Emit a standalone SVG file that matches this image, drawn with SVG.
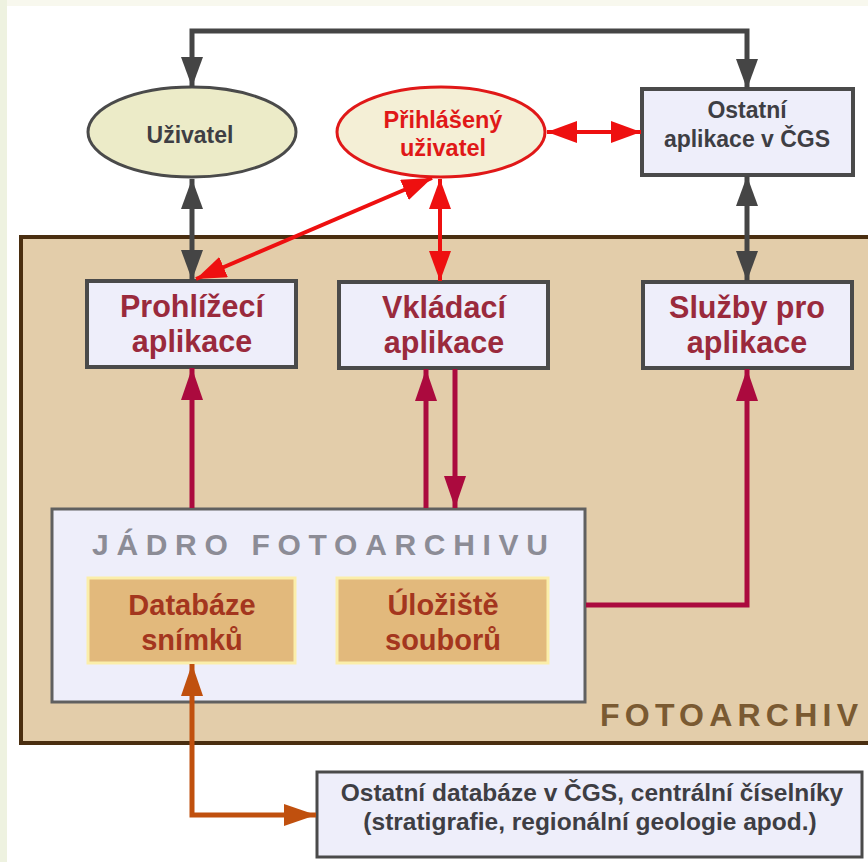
<svg xmlns="http://www.w3.org/2000/svg" width="868" height="862" viewBox="0 0 868 862">
<style>
.app{fill:#eeeefa;stroke:#4a4a4a;stroke-width:4}
.apptxt{font-family:"Liberation Sans",Arial,sans-serif;font-weight:bold;font-size:30.5px;fill:#9a2a3c;text-anchor:middle}
.gtxt{font-family:"Liberation Sans",Arial,sans-serif;font-weight:bold;font-size:23px;fill:#3e3e44;text-anchor:middle}
.btxt{font-family:"Liberation Sans",Arial,sans-serif;font-weight:bold;font-size:24.5px;fill:#3e3e44;text-anchor:middle}
.rtxt{font-family:"Liberation Sans",Arial,sans-serif;font-weight:bold;font-size:23.5px;fill:#e01818;text-anchor:middle}
.store{fill:#e2b97c;stroke:#fbeeaa;stroke-width:3}
.stxt{font-family:"Liberation Sans",Arial,sans-serif;font-weight:bold;font-size:29px;fill:#a4361e;text-anchor:middle}
.gray{stroke:#454545;stroke-width:5;fill:none}
.red{stroke:#ee1010;stroke-width:4;fill:none}
.mag{stroke:#ab0a3e;stroke-width:5;fill:none}
.org{stroke:#c0500e;stroke-width:5;fill:none}
</style>
<defs>
<marker id="ag" markerUnits="userSpaceOnUse" markerWidth="30" markerHeight="22" refX="30" refY="11" orient="auto-start-reverse"><path d="M0,0 L30,11 L0,22 z" fill="#454545"/></marker>
<marker id="ar" markerUnits="userSpaceOnUse" markerWidth="30" markerHeight="22" refX="30" refY="11" orient="auto-start-reverse"><path d="M0,0 L30,11 L0,22 z" fill="#ee1010"/></marker>
<marker id="am" markerUnits="userSpaceOnUse" markerWidth="32" markerHeight="22" refX="32" refY="11" orient="auto-start-reverse"><path d="M0,0 L32,11 L0,22 z" fill="#ab0a3e"/></marker>
<marker id="ao" markerUnits="userSpaceOnUse" markerWidth="32" markerHeight="22" refX="32" refY="11" orient="auto-start-reverse"><path d="M0,0 L32,11 L0,22 z" fill="#c0500e"/></marker>
</defs>
<rect x="0" y="0" width="868" height="862" fill="#eef2e0"/>
<rect x="7" y="0" width="861" height="6" fill="#f8f8ee"/>
<rect x="7" y="6" width="861" height="856" fill="#ffffff"/>

<g id="fotoarchiv">
<rect x="21" y="237" width="870" height="506" fill="#e3cdaa" stroke="#4a2e10" stroke-width="4"/>
<text x="858" y="726" font-family="'Liberation Sans',Arial,sans-serif" font-weight="bold" font-size="32" fill="#7a5a32" text-anchor="end" textLength="258" lengthAdjust="spacing">FOTOARCHIV</text>
</g>

<g id="uzivatel">
<ellipse cx="192" cy="132" rx="104" ry="45" fill="#ecebc8" stroke="#4a4a4a" stroke-width="3"/>
<text class="gtxt" x="190" y="143">Uživatel</text>
</g>
<g id="prihlaseny">
<ellipse cx="441" cy="132" rx="104" ry="45" fill="#f4efd6" stroke="#e01818" stroke-width="3"/>
<text class="rtxt" x="443" y="128">Přihlášený</text>
<text class="rtxt" x="443" y="156">uživatel</text>
</g>
<g id="ostatni-aplikace">
<rect x="642" y="89" width="211" height="86" class="app"/>
<text class="gtxt" x="747" y="118">Ostatní</text>
<text class="gtxt" x="747" y="147">aplikace v ČGS</text>
</g>
<g id="prohlizeci">
<rect x="87" y="281" width="209" height="86" class="app"/>
<text class="apptxt" x="192" y="317">Prohlížecí</text>
<text class="apptxt" x="192" y="352">aplikace</text>
</g>
<g id="vkladaci">
<rect x="339" y="282" width="209" height="86" class="app"/>
<text class="apptxt" x="444" y="318">Vkládací</text>
<text class="apptxt" x="444" y="353">aplikace</text>
</g>
<g id="sluzby">
<rect x="643" y="282" width="209" height="86" class="app"/>
<text class="apptxt" x="747" y="318">Služby pro</text>
<text class="apptxt" x="747" y="353">aplikace</text>
</g>
<g id="jadro">
<rect x="52" y="509" width="533" height="193" fill="#eeeefa" stroke="#606060" stroke-width="3"/>
<text x="92" y="555" font-family="'Liberation Sans',Arial,sans-serif" font-weight="bold" font-size="30" fill="#8c8c96" textLength="456" lengthAdjust="spacing">JÁDRO FOTOARCHIVU</text>
</g>
<g id="databaze">
<rect x="88" y="578" width="207" height="85" class="store"/>
<text class="stxt" x="192" y="615">Databáze</text>
<text class="stxt" x="192" y="650">snímků</text>
</g>
<g id="uloziste">
<rect x="337" y="578" width="211" height="85" class="store"/>
<text class="stxt" x="443" y="615">Úložiště</text>
<text class="stxt" x="443" y="650">souborů</text>
</g>
<g id="ostatni-databaze">
<rect x="317" y="772" width="545" height="85" fill="#eeeefa" stroke="#4a4a4a" stroke-width="3"/>
<text class="btxt" x="592" y="801">Ostatní databáze v ČGS, centrální číselníky</text>
<text class="btxt" x="590" y="830">(stratigrafie, regionální geologie apod.)</text>
</g>

<g id="connectors">
<path class="gray" d="M192,87 V31 H747 V89" marker-start="url(#ag)" marker-end="url(#ag)"/>
<path class="gray" d="M192,179 V280" marker-start="url(#ag)" marker-end="url(#ag)"/>
<path class="gray" d="M747,176 V281" marker-start="url(#ag)" marker-end="url(#ag)"/>
<path class="red" d="M547,132 H641" marker-start="url(#ar)" marker-end="url(#ar)"/>
<path class="red" d="M432,178 L196,279" marker-start="url(#ar)" marker-end="url(#ar)"/>
<path class="red" d="M440,179 V281" marker-start="url(#ar)" marker-end="url(#ar)"/>
<path class="mag" d="M192,508 V368" marker-end="url(#am)"/>
<path class="mag" d="M426,508 V369" marker-end="url(#am)"/>
<path class="mag" d="M455,369 V508" marker-end="url(#am)"/>
<path class="mag" d="M586,605 H747 V369" marker-end="url(#am)"/>
<path class="org" d="M192,664 V815 H316" marker-start="url(#ao)" marker-end="url(#ao)"/>
</g>
</svg>
